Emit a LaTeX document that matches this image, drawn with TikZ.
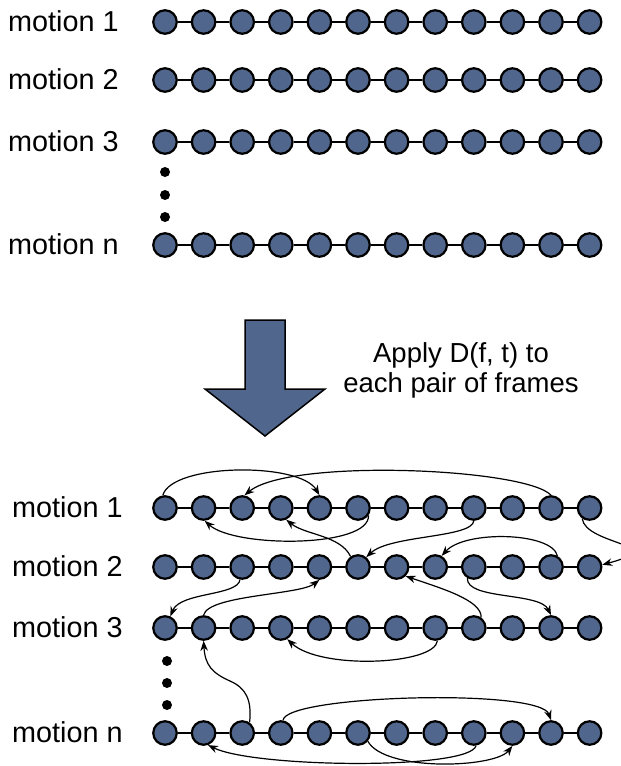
\documentclass[tikz,border=0pt]{standalone}
\usepackage{fontspec}
\setmainfont{Liberation Sans}
\usetikzlibrary{arrows.meta}
\definecolor{nodeblue}{RGB}{80,102,140}
\begin{document}
\begin{tikzpicture}[x=1pt,y=-1pt,
  frame/.style={circle,draw=black,line width=2.2pt,fill=nodeblue,minimum size=23.5pt,inner sep=0pt},
  link/.style={line width=2pt},
  lbl/.style={anchor=base west,inner sep=0pt,font=\fontsize{28.8}{30}\selectfont},
  note/.style={anchor=base,inner sep=0pt,font=\fontsize{27.5}{30}\selectfont},
  jump/.style={line width=1.2pt,-{Stealth[length=10pt,width=7.5pt]}},
  dotmark/.style={circle,fill=black,inner sep=0pt,minimum size=10pt}]
\useasboundingbox (0,0) rectangle (621,766);
\fill[white] (0,0) rectangle (621,766);

% top block
\foreach \r/\y in {1/22,2/80,3/142,n/245}{
  \node[lbl] (lt\r) at (8,\y+9.5) {motion \r};
  \foreach \k in {0,...,11}{
    \node[frame] (t\r-\k) at ({165+38.6*\k},\y) {};
  }
  \foreach \k [count=\j from 1] in {0,...,10}{
    \draw[link] (t\r-\k) -- (t\r-\j);
  }
}
\node[dotmark] (td1) at (165,172) {};
\node[dotmark] (td2) at (165,195) {};
\node[dotmark] (td3) at (165,217) {};

% big arrow
\draw[fill=nodeblue,line width=1.5pt,line join=miter]
  (245,320) -- (285,320) -- (285,389) -- (325,389) -- (265,436) -- (205,389) -- (245,389) -- cycle;
\node[note] (apply1) at (461,362) {Apply D(f, t) to};
\node[note] (apply2) at (461,392) {each pair of frames};

% bottom block
\foreach \r/\y in {1/508,2/567,3/628,n/733}{
  \node[lbl] (lb\r) at (12,\y+9.5) {motion \r};
  \foreach \k in {0,...,11}{
    \node[frame] (b\r-\k) at ({165+38.6*\k},\y) {};
  }
  \foreach \k [count=\j from 1] in {0,...,10}{
    \draw[link] (b\r-\k) -- (b\r-\j);
  }
}
\node[dotmark] (bd1) at (167,661) {};
\node[dotmark] (bd2) at (167,683) {};
\node[dotmark] (bd3) at (167,705) {};

% transitions
\draw[jump] (b1-0.100) .. controls (172,463) and (300,462) .. (b1-4.north);
\draw[jump] (b1-10.north) .. controls (525,468) and (290,458) .. (b1-2.80);
\draw[jump] (b1-5.-35) .. controls (370,548) and (235,548) .. (b1-1.-85);
\draw[jump] (b2-5.125) .. controls (340,535) and (305,535) .. (b1-3.-65);
\draw[jump] (b1-8.south) .. controls (472,538) and (390,535) .. (b2-5.50);
\draw[jump] (b1-11.-125) .. controls (585,545) and (675,545) .. (b2-11.10);
\draw[jump] (b2-10.60) .. controls (552,532) and (465,530) .. (b2-7.60);
\draw[jump] (b3-8.55) .. controls (482,600) and (440,588) .. (b2-6.-45);
\draw[jump] (b2-8.-120) .. controls (466,600) and (540,592) .. (b3-10.north);
\draw[jump] (b2-2.-100) .. controls (238,596) and (180,592) .. (b3-0.65);
\draw[jump] (b3-1.north) .. controls (208,595) and (300,595) .. (b2-4.south);
\draw[jump] (b3-7.-80) .. controls (435,665) and (320,670) .. (b3-3.-60);
\draw[jump] (bn-2.55) .. controls (252,700) and (246,688) .. (230,681)
  .. controls (212,673) and (205,665) .. (b3-1.south);
\draw[jump] (bn-3.80) .. controls (285,695) and (540,688) .. (bn-10.north);
\draw[jump] (bn-8.-80) .. controls (470,770) and (255,768) .. (bn-1.-70);
\draw[jump] (bn-5.-40) .. controls (385,772) and (495,768) .. (bn-9.south);
\end{tikzpicture}
\end{document}
